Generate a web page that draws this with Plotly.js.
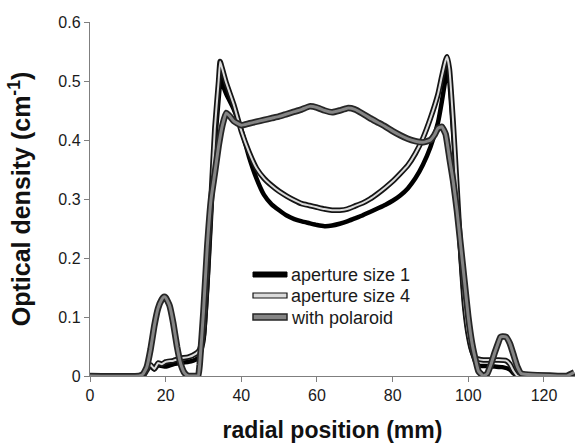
<!DOCTYPE html>
<html>
<head>
<meta charset="utf-8">
<script src="https://cdn.plot.ly/plotly-3.0.1.min.js"></script>
<style>
html,body{margin:0;padding:0;background:#fff;}
#chart{width:575px;height:444px;}
</style>
</head>
<body>
<div id="chart"></div>
<script>
// Series names
var seriesNames = ["aperture size 1", "aperture size 4", "with polaroid"];

// aperture size 1 (black)
var ap1X = [0,13,14,15,16,17,18,20,22,24,26,28,29,30,31,32,33,34,34.6,35.3,36,38,40,42,44,46,48,50,52,54,56,58,60,62,64,66,68,70,72,74,76,78,80,82,84,86,88,90,92,93,94,94.6,95,96,97,98,99,100,101,102,103,105,107,109,111,112,113,114,128];
var ap1Y = [0,0,0.004,0.012,0.016,0.011,0.018,0.016,0.02,0.022,0.024,0.028,0.034,0.06,0.15,0.27,0.39,0.47,0.507,0.49,0.478,0.452,0.418,0.372,0.335,0.307,0.291,0.281,0.272,0.266,0.262,0.259,0.256,0.254,0.255,0.258,0.262,0.267,0.272,0.278,0.284,0.29,0.297,0.306,0.318,0.335,0.358,0.388,0.43,0.465,0.505,0.524,0.5,0.41,0.31,0.2,0.12,0.07,0.04,0.022,0.017,0.017,0.016,0.015,0.011,0.004,0,0,0];

// aperture size 4 (light grey)
var ap4X = [0,14,15,16,17,18,19,20,22,24,26,28,29,30,31,32,33,34,34.4,35,36,38,40,42,44,46,48,50,52,54,56,58,60,62,64,66,68,70,72,74,76,78,80,82,84,86,88,90,92,93,94,94.4,95,96,97,98,99,100,101,102,104,106,108,110,111,112,113,128];
var ap4Y = [0,0,0.01,0.019,0.012,0.022,0.02,0.024,0.026,0.03,0.032,0.038,0.045,0.07,0.17,0.3,0.42,0.5,0.533,0.52,0.497,0.46,0.415,0.38,0.352,0.335,0.323,0.313,0.305,0.298,0.292,0.289,0.286,0.283,0.281,0.281,0.283,0.288,0.293,0.3,0.309,0.319,0.33,0.343,0.357,0.377,0.403,0.437,0.478,0.508,0.535,0.541,0.52,0.43,0.32,0.21,0.12,0.07,0.042,0.03,0.027,0.027,0.027,0.026,0.02,0.008,0,0];

// with polaroid (mid grey)
var polX = [0,13,14,15,16,17,18,19,19.5,20,21,22,23,24,25,26,27,28,28.6,29,30,31,32,33,34,35,36,37,38,40,42,44,46,48,50,52,54,56,58,60,62,64,66,68,70,72,74,76,78,80,82,84,86,88,90,91,92,93,94,95,96,97,98,99,100,101,102,102.7,104,105,106,107,108,108.5,109,110,111,112,113,114,124,126,127,128];
var polY = [0,0,0.003,0.015,0.045,0.085,0.115,0.13,0.134,0.133,0.12,0.09,0.05,0.02,0.005,0,0,0,0,0.02,0.11,0.22,0.3,0.344,0.39,0.425,0.446,0.44,0.432,0.425,0.428,0.431,0.434,0.437,0.44,0.444,0.448,0.452,0.457,0.455,0.45,0.447,0.45,0.454,0.452,0.445,0.437,0.43,0.423,0.415,0.408,0.402,0.398,0.396,0.4,0.408,0.42,0.4225,0.41,0.37,0.33,0.28,0.22,0.16,0.1,0.055,0.025,0.008,0,0.004,0.02,0.04,0.058,0.066,0.067,0.066,0.055,0.035,0.015,0.004,0,0,0.003,0.006,0.01];

// Axis ticks
var xTicks = [0,20,40,60,80,100,120];
var yTicks = [0,0.1,0.2,0.3,0.4,0.5,0.6];
var yTickText = ["0","0.1","0.2","0.3","0.4","0.5","0.6"];

var FONT = "Arial, Liberation Sans, sans-serif";

function lineTrace(x, y, color, width) {
  return {x: x, y: y, type: "scatter", mode: "lines", hoverinfo: "skip", showlegend: false,
          line: {color: color, width: width, shape: "spline", smoothing: 0.4}};
}

var data = [
  lineTrace(ap1X, ap1Y, "#000000", 4.5),
  lineTrace(ap4X, ap4Y, "#151515", 5.5),
  lineTrace(ap4X, ap4Y, "#dadada", 2),
  lineTrace(polX, polY, "#262626", 6.5),
  lineTrace(polX, polY, "#858585", 3)
];

// Legend geometry (pixels -> paper)
var L = 90, W = 485, T = 22, H = 354;
function px(v){ return (v - L) / W; }
function py(v){ return (T + H - v) / H; }

var legendStyles = [
  {fill: "#000000", line: "#000000", lw: 1, y0: 272, y1: 277},
  {fill: "#dadada", line: "#151515", lw: 1.2, y0: 293, y1: 298},
  {fill: "#858585", line: "#262626", lw: 1.5, y0: 314, y1: 320}
];
var shapes = [], annotations = [];
for (var i = 0; i < seriesNames.length; i++) {
  var s = legendStyles[i];
  shapes.push({type: "rect", xref: "paper", yref: "paper",
    x0: px(253), x1: px(287), y0: py(s.y1), y1: py(s.y0),
    fillcolor: s.fill, line: {color: s.line, width: s.lw}});
  annotations.push({xref: "paper", yref: "paper", x: px(289), y: py((s.y0 + s.y1) / 2 + 0.5),
    xanchor: "left", yanchor: "middle", showarrow: false, text: seriesNames[i],
    font: {family: FONT, size: 18, color: "#1a1a1a"}});
}

var layout = {
  width: 575, height: 444,
  margin: {l: 90, r: 0, t: 22, b: 68},
  paper_bgcolor: "#ffffff", plot_bgcolor: "#ffffff",
  showlegend: false,
  font: {family: FONT, size: 16, color: "#1a1a1a"},
  xaxis: {
    range: [0, 128.2], tickvals: xTicks, ticktext: xTicks.map(String),
    showgrid: false, zeroline: false, showline: true, linecolor: "#7f7f7f", linewidth: 1.2,
    ticks: "outside", ticklen: 5, tickcolor: "#7f7f7f", tickwidth: 1,
    tickfont: {size: 16, color: "#1a1a1a"},
    title: {text: "radial position (mm)", font: {size: 23, color: "#111", family: FONT, weight: "bold"}, standoff: 18}
  },
  yaxis: {
    range: [0, 0.6], tickvals: yTicks, ticktext: yTickText,
    showgrid: false, zeroline: false, showline: true, linecolor: "#7f7f7f", linewidth: 1.2,
    ticks: "outside", ticklen: 5, tickcolor: "#7f7f7f", tickwidth: 1,
    tickfont: {size: 16, color: "#1a1a1a"},
    title: {text: "Optical density (cm<sup>-1</sup>)", font: {size: 25, color: "#111", family: FONT, weight: "bold"}, standoff: 20}
  },
  shapes: shapes,
  annotations: annotations
};

Plotly.newPlot("chart", data, layout, {displayModeBar: false, staticPlot: true});
</script>
</body>
</html>
